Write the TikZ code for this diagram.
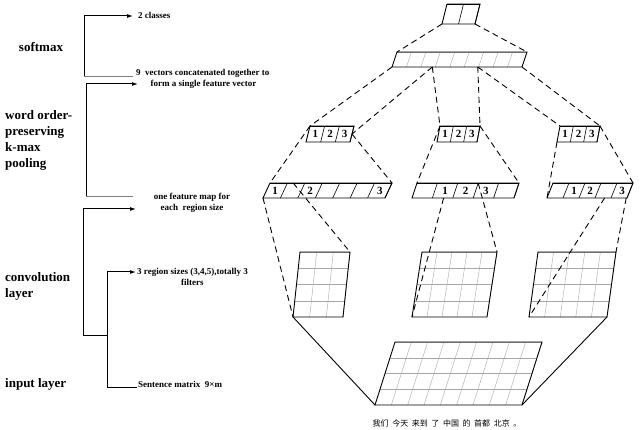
\documentclass[tikz,border=0pt]{standalone}
\usepackage{fontspec}
\setmainfont{Liberation Serif}
\newfontfamily\cjk{Noto Sans CJK SC}
\usetikzlibrary{calc,arrows.meta}
\newcommand\pgram[9]{%
 \coordinate (#1-bl) at (#2,#3);
 \coordinate (#1-br) at ({#2+#6},#3);
 \coordinate (#1-tl) at ({#2+#4},{#3-#5});
 \coordinate (#1-tr) at ({#2+#4+#6},{#3-#5});
 \foreach \i in {1,...,#7}{\draw[#9] ($(#1-bl)!{\i/#7}!(#1-br)$) -- ($(#1-tl)!{\i/#7}!(#1-tr)$);}
 \foreach \j in {1,...,#8}{\draw[#9] ($(#1-bl)!{\j/#8}!(#1-tl)$) -- ($(#1-br)!{\j/#8}!(#1-tr)$);}
 \draw[box] (#1-bl)--(#1-br)--(#1-tr)--(#1-tl)--cycle;}
\newcommand\cnum[3]{\node[num] at ($($(#1-bl)!#2!(#1-br)$)!0.5!($(#1-tl)!#2!(#1-tr)$)$) {#3};}
\tikzset{box/.style={line width=0.9pt},gridg/.style={gray!70,line width=0.4pt},gridd/.style={black,line width=0.6pt},
 num/.style={font=\bfseries\fontsize{11}{11}\selectfont,inner sep=0pt},
 dsh/.style={dashed,dash pattern=on 6pt off 4pt,line width=0.9pt},
 sol/.style={line width=0.9pt},
 small/.style={font=\bfseries\fontsize{9}{10.5}\selectfont,inner sep=0pt,align=left},
 big/.style={font=\bfseries\fontsize{13}{16}\selectfont,inner sep=0pt,align=left,anchor=west},
 brk/.style={line width=1pt},arr/.style={brk,-{Latex[length=6pt,width=4pt]}}}
\begin{document}
\begin{tikzpicture}[x=1pt,y=-1pt]
\useasboundingbox (0,0) rectangle (640,430);
\pgram{out}{442}{24}{5}{20}{33}{2}{1}{gridd}
\pgram{cat}{392}{67}{5}{15}{130}{9}{1}{gridg}
\pgram{pL}{306}{142}{4}{16}{44}{3}{1}{gridd}
\pgram{pM}{437}{142}{3}{16}{40}{3}{1}{gridd}
\pgram{pR}{557}{142}{3}{16}{40}{3}{1}{gridd}
\pgram{fL}{263}{198}{7}{15}{122}{7}{1}{gridd}
\pgram{fM}{412}{198}{5}{15}{102}{5}{1}{gridd}
\pgram{fR}{547}{198}{6}{15}{80}{5}{1}{gridd}
\pgram{cL}{293}{317}{7}{65}{50}{3}{4}{gridg}
\pgram{cM}{412}{317}{10}{65}{75}{5}{4}{gridg}
\pgram{cR}{529}{317}{9}{65}{78}{5}{4}{gridg}
\pgram{in}{375}{405}{20}{63}{147}{9}{4}{gridg}
\foreach \n in {pL,pM,pR}{\cnum{\n}{0.1667}{1}\cnum{\n}{0.5}{2}\cnum{\n}{0.8333}{3}}
\cnum{fL}{0.0714}{1}\cnum{fL}{0.357}{2}\cnum{fL}{0.929}{3}
\cnum{fM}{0.3}{1}\cnum{fM}{0.5}{2}\cnum{fM}{0.7}{3}
\cnum{fR}{0.3}{1}\cnum{fR}{0.5}{2}\cnum{fR}{0.9}{3}
% dashed connectors
\draw[dsh] (out-bl) -- (cat-tl);
\draw[dsh] (out-br) -- (cat-tr);
\coordinate (c1) at ($(cat-bl)!0.31!(cat-br)$);
\coordinate (c2) at ($(cat-bl)!0.66!(cat-br)$);
\draw[dsh] (cat-bl) -- (pL-tl);
\draw[dsh] (c1) -- ($(pL-tr)!0.5!(pL-br)$);
\draw[dsh] (c1) -- (pM-tl);
\draw[dsh] (c2) -- (pM-tr);
\draw[dsh] (c2) -- (pR-tl);
\draw[dsh] (cat-br) -- (pR-tr);
\draw[dsh] (pL-tl) -- (fL-tl);
\draw[dsh] ($(pL-tr)!0.5!(pL-br)$) -- (fL-tr);
\draw[dsh] (pM-tl) -- (fM-tl);
\draw[dsh] (pM-tr) -- (fM-tr);
\draw[dsh] (pR-bl) -- (fR-bl);
\draw[dsh] (pR-tr) -- (fR-tr);
\coordinate (f1) at ($(fL-tl)!0.19!(fL-tr)$);
\draw[dsh] (fL-bl) -- (cL-bl);
\draw[dsh] (f1) -- (cL-tr);
\coordinate (f2) at ($(fM-bl)!0.31!(fM-br)$);
\coordinate (f3) at ($(fM-tl)!0.6!(fM-tr)$);
\draw[dsh] (f2) -- (cM-bl);
\draw[dsh] (f3) -- (cM-tr);
\coordinate (f4) at ($(fR-bl)!0.72!(fR-br)$);
\coordinate (f5) at ($(fR-bl)!0.99!(fR-br)$);
\draw[dsh] (f4) -- (cR-bl);
\draw[dsh] (f5) -- (cR-tr);
\draw[sol] (cL-bl) -- (in-bl);
\draw[sol] (cR-br) -- (in-br);
\node[font=\cjk\fontsize{8}{8}\selectfont,inner sep=0pt] (sent) at (447,423) {我们 \ 今天 \ 来到 \ 了 \ 中国 \ 的 \ 首都 \ 北京 \ 。};
% left side
\node[big,anchor=center] (lsm) at (41,47) {softmax};
\node[big] (lwo) at (5,140) {word order-\\preserving\\k-max\\pooling};
\node[big] (lcv) at (5,286) {convolution\\layer};
\node[big] (lin) at (5,384) {input layer};
\node[small,anchor=west] (t1) at (138,15) {2 classes};
\node[small,anchor=west] (t2) at (136,79) {9\ \ vectors concatenated together to\\\hspace{1.6em}form a single feature vector};
\node[small,align=center] (t3) at (192,203) {one feature map for\\each\ \ region size};
\node[small,align=center,anchor=west] (t4) at (137,277) {3 region sizes (3,4,5),totally 3\\filters};
\node[small,anchor=west] (t5) at (138,384) {Sentence matrix\ \ 9×m};
\coordinate (b1a) at (84,16); \coordinate (b1b) at (84,77); \coordinate (b1e) at (133,77);
\draw[arr] (b1b) -- (b1a) -- (133,16);
\draw[brk,gray] (b1b) -- (b1e);
\coordinate (b2a) at (86,84); \coordinate (b2b) at (86,197);
\draw[arr] (b2b) -- (b2a) -- (138,84);
\draw[brk,gray] (b2b) -- (133,197);
\coordinate (b3a) at (83,209); \coordinate (b3b) at (83,336); \coordinate (b3c) at (107,336);
\draw[arr] (b3c) -- (b3b) -- (b3a) -- (136,209);
\coordinate (b4a) at (107,272); \coordinate (b4b) at (107,387);
\draw[arr] (b4b) -- (b4a) -- (136,272);
\draw[brk] (b4b) -- (137,387);
\end{tikzpicture}
\end{document}
